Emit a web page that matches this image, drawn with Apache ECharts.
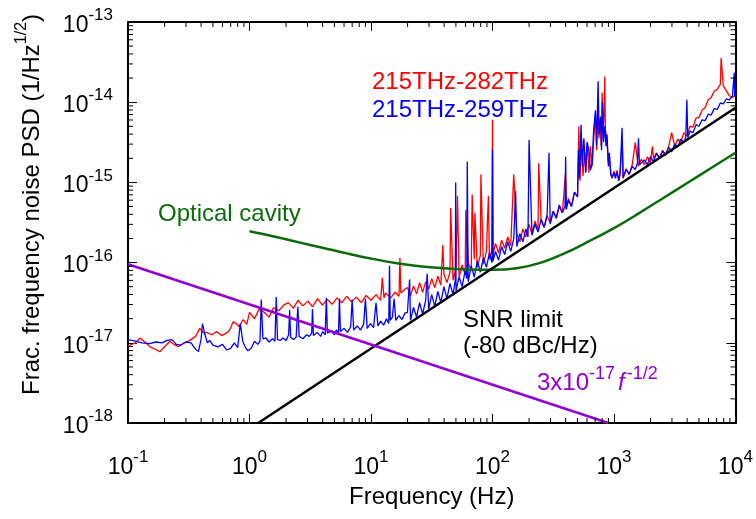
<!DOCTYPE html>
<html>
<head>
<meta charset="utf-8">
<script src="https://cdn.jsdelivr.net/npm/echarts@6/dist/echarts.min.js"></script>
<style>
  html, body { margin: 0; padding: 0; background: #fff; }
  #main { width: 756px; height: 519px; }
</style>
</head>
<body>
<div id="main"></div>
<script>
const FONT = '"Liberation Sans", Arial, sans-serif';

const freqMin = 0.1, freqMax = 1e4;
const psdMin = 1e-18, psdMax = 1e-13;

// [frequency (Hz), log10 of PSD]
const red282 = [
  [0.1,-17.04],[0.115,-17.0],[0.126,-16.94],[0.14,-17.0],[0.152,-17.05],[0.167,-17.08],[0.183,-17.11],
  [0.2,-17.05],[0.221,-16.98],[0.24,-17.02],[0.259,-17.05],[0.29,-17.0],[0.323,-16.97],[0.36,-16.92],
  [0.39,-16.82],[0.42,-16.88],[0.443,-16.87],[0.49,-16.9],[0.535,-16.86],[0.59,-16.91],[0.645,-16.88],
  [0.687,-16.84],[0.733,-16.74],[0.78,-16.76],[0.82,-16.8],[0.887,-16.71],[0.95,-16.77],
  [1.0,-16.62],[1.1,-16.70],[1.2,-16.58],[1.32,-16.62],[1.45,-16.68],[1.58,-16.56],[1.74,-16.60],
  [1.91,-16.53],[2.09,-16.50],[2.29,-16.57],[2.51,-16.47],[2.75,-16.54],[3.02,-16.48],[3.31,-16.55],
  [3.63,-16.45],[3.98,-16.53],[4.37,-16.46],[4.79,-16.52],[5.25,-16.44],[5.75,-16.50],[6.31,-16.42],
  [6.92,-16.49],[7.59,-16.43],[8.32,-16.50],[9.12,-16.41],[10,-16.47],[11,-16.40],[12,-16.47],
  [12.4,-16.19],[12.8,-16.44],[13.2,-16.38],[14.5,-16.44],[15.8,-16.37],[17.0,-16.42],[17.3,-15.94],
  [17.6,-16.38],[19.1,-16.33],
  [19.95,-16.31],[21.13,-16.41],[22.39,-16.29],[23.71,-16.39],[25.12,-16.25],[26.61,-16.37],
  [28.18,-16.24],[29.85,-16.33],[31.62,-16.20],[33.5,-16.31],[35.48,-16.17],[37.58,-16.28],
  [39.0,-15.78],[39.81,-16.14],[42.17,-16.25],[44.67,-16.12],[45.3,-15.32],[47.32,-16.22],
  [50.12,-16.06],[51.5,-15.17],[53.09,-16.18],[56.23,-16.03],[59.57,-16.15],[60.3,-15.34],
  [63.1,-16.00],[66.83,-16.10],[68,-15.15],[70.79,-15.96],[71.6,-15.38],[74.99,-16.06],
  [79.43,-15.91],[80.3,-14.90],[84.14,-16.02],[89.13,-15.86],[92.5,-15.17],[94.41,-15.96],
  [99,-15.84],[100,-14.22],[101,-15.90],[105.9,-15.76],[112.2,-15.88],[118.9,-15.72],[125.9,-15.82],
  [133.4,-15.68],[141.3,-15.79],[149.6,-14.90],[158.5,-15.64],[167.9,-15.74],[177.8,-15.58],
  [188.4,-15.68],[199.5,-15.52],[211.3,-15.64],[223.9,-15.48],[237.1,-15.60],[240,-14.76],
  [251.2,-15.47],[266.1,-15.56],[281.8,-15.42],[298.5,-15.50],[316.2,-15.36],[335,-15.45],
  [354.8,-15.30],[375.8,-15.38],[398.1,-14.90],[404,-15.32],[421.7,-15.20],[446.7,-15.30],
  [473.2,-15.12],[501.2,-15.18],
  [514,-14.30],[525,-14.98],[540,-14.45],[556,-14.92],[575,-14.62],[586,-14.85],[605,-14.50],
  [621,-14.88],[640,-14.55],[661,-14.80],[685,-14.40],[704,-14.15],[720,-14.60],[735,-14.05],
  [752,-14.45],[770,-14.20],[785,-14.55],[799,-13.88],[815,-14.40],[830,-14.10],[840,-13.68],
  [850,-14.35],[876,-14.45],[895,-14.75],[915,-14.65],[940,-14.88],[965,-14.95],[1000,-14.86],
  [1027,-14.92],[1060,-14.85],[1094,-14.97],
  [1122,-14.88],[1170,-14.47],[1189,-14.95],[1259,-14.83],[1334,-14.90],[1413,-14.78],[1496,-14.50],
  [1585,-14.80],[1679,-14.71],[1778,-14.78],[1884,-14.68],[1995,-14.75],[2070,-14.55],[2113,-14.70],
  [2239,-14.63],[2371,-14.70],[2512,-14.60],[2661,-14.66],[2818,-14.55],[2985,-14.38],[3162,-14.55],
  [3350,-14.46],[3548,-14.50],[3758,-14.38],[3981,-14.42],[4217,-14.30],[4467,-14.31],[4732,-14.20],
  [5012,-14.19],[5309,-14.10],[5623,-14.07],[5957,-13.97],[6310,-13.94],[6683,-13.86],[7079,-13.84],
  [7499,-13.78],[7620,-13.45],[7943,-13.80],[8414,-13.86],[8913,-13.92],[9441,-13.94],[10000,-13.91]
];

const blue259 = [
  [0.1,-16.96],[0.115,-16.98],[0.13,-17.0],[0.15,-17.01],[0.17,-16.99],[0.19,-17.0],[0.21,-16.97],
  [0.23,-16.96],[0.25,-17.02],[0.27,-17.03],[0.3,-16.99],[0.33,-17.0],[0.36,-17.08],[0.38,-17.11],
  [0.40,-16.95],[0.41,-16.76],[0.43,-16.9],[0.45,-17.0],[0.47,-16.97],[0.5,-17.03],[0.55,-17.05],
  [0.6,-17.02],[0.65,-17.09],[0.7,-17.07],[0.75,-17.0],[0.8,-17.06],[0.84,-16.76],[0.88,-16.98],
  [0.92,-17.05],[0.97,-17.1],[1.03,-17.07],[1.1,-16.98],[1.17,-17.02],[1.22,-16.98],[1.25,-16.46],
  [1.29,-16.95],[1.37,-16.94],[1.45,-16.99],[1.55,-16.95],[1.62,-16.98],[1.66,-16.43],[1.7,-16.96],
  [1.8,-16.97],[1.88,-16.94],[2.0,-16.97],[2.1,-16.9],[2.14,-16.59],[2.18,-16.93],[2.3,-16.96],
  [2.42,-16.93],[2.5,-16.55],[2.56,-16.92],[2.75,-16.95],[2.95,-16.90],[3.11,-16.92],[3.25,-16.88],
  [3.3,-16.58],[3.36,-16.91],[3.6,-16.87],[3.85,-16.92],[4.0,-16.86],[4.2,-16.9],[4.29,-16.44],
  [4.38,-16.88],[4.7,-16.85],[5.0,-16.9],[5.18,-16.84],[5.4,-16.88],[5.5,-16.45],[5.6,-16.86],
  [6.0,-16.82],[6.4,-16.87],[6.8,-16.8],[7.0,-16.46],[7.2,-16.84],[7.7,-16.79],[8.2,-16.84],
  [8.7,-16.77],[9.0,-16.45],[9.3,-16.82],[9.9,-16.76],[10.5,-16.81],[11.0,-16.50],[11.4,-16.79],
  [12.0,-16.73],[12.7,-16.78],[13.4,-16.70],[14.0,-16.76],[14.2,-16.04],[14.4,-16.72],[15.0,-16.68],
  [15.5,-16.45],[16.0,-16.72],[17,-16.66],[18,-16.71],[19,-16.63],
  [19.95,-16.62],[20.8,-16.21],[21.13,-16.72],[22.39,-16.56],[23.71,-16.68],[25.12,-16.50],
  [26.61,-16.64],[28.18,-16.47],[29,-16.14],[29.85,-16.58],[31.62,-16.40],[33.5,-16.55],
  [35.48,-16.36],[37.58,-16.50],[39.81,-16.30],[42.17,-16.45],[44.67,-16.26],[47.32,-16.40],
  [49.4,-16.22],[49.8,-15.0],[50.12,-16.35],[53.09,-16.18],[56.23,-16.30],[59.57,-16.10],
  [61.4,-16.20],[62,-14.74],[63.1,-16.24],[66.83,-16.04],[70.79,-16.18],[74.99,-15.98],
  [79.43,-16.12],[84.14,-15.94],[89.13,-16.06],[94.41,-15.88],[99,-16.0],[100,-14.59],[101,-15.98],
  [105.9,-15.86],[112.2,-15.97],[118.9,-15.80],[125.9,-15.90],[133.4,-15.74],[141.3,-15.86],
  [149.6,-15.70],[155,-15.11],[158.5,-15.80],[167.9,-15.64],[177.8,-15.74],[188.4,-15.58],
  [196,-15.68],[200,-14.47],[211.3,-15.66],[223.9,-15.52],[237.1,-15.62],[251.2,-15.46],
  [266.1,-15.56],[281.8,-15.40],[292,-14.63],[298.5,-15.52],[316.2,-15.36],[335,-15.44],
  [354.8,-15.28],[375.8,-15.38],[395,-15.30],[400,-14.68],[405,-15.34],[421.7,-15.22],
  [446.7,-15.30],[473.2,-15.12],[501.2,-15.18],
  [510,-14.60],[520,-14.95],[536,-14.28],[549,-14.80],[565,-14.45],[586,-14.88],[600,-14.50],
  [621,-14.60],[640,-14.85],[661,-14.76],[680,-14.35],[704,-14.10],[720,-14.55],[740,-13.74],
  [755,-14.40],[777,-14.18],[790,-14.60],[805,-14.0],[820,-14.50],[840,-14.30],[860,-14.55],
  [876,-14.40],[900,-14.80],[915,-14.63],[940,-14.90],[965,-14.94],[1000,-14.88],[1027,-14.95],
  [1060,-14.87],[1094,-14.98],
  [1122,-14.90],[1165,-14.32],[1189,-14.94],[1259,-14.84],[1334,-14.90],[1413,-14.80],[1496,-14.84],
  [1560,-14.76],[1590,-14.45],[1620,-14.78],[1778,-14.72],[1884,-14.78],[1995,-14.68],[2113,-14.74],
  [2239,-14.64],[2371,-14.70],[2512,-14.61],[2661,-14.66],[2818,-14.56],[2985,-14.62],[3162,-14.52],
  [3350,-14.56],[3548,-14.46],[3758,-14.50],[3900,-14.44],[3980,-13.97],[4050,-14.44],[4217,-14.36],
  [4467,-14.38],[4732,-14.28],[5012,-14.30],[5309,-14.22],[5623,-14.23],[5957,-14.15],[6310,-14.16],
  [6683,-14.08],[7079,-14.09],[7499,-14.01],[7943,-14.02],[8414,-13.96],[8913,-13.97],[9441,-13.92],
  [9700,-13.93],[9770,-13.63],[9850,-13.93],[10000,-13.90]
];

const opticalCavity = [
  [1,-15.61],[1.585,-15.675],[2.512,-15.745],[3.981,-15.815],[6.31,-15.885],[10,-15.95],
  [15.85,-16.005],[25.12,-16.045],[39.81,-16.07],[63.1,-16.085],[100,-16.09],[158.5,-16.07],
  [251.2,-16.0],[398.1,-15.88],[631,-15.73],[1000,-15.57],[1585,-15.39],[2512,-15.20],
  [3981,-15.01],[6310,-14.82],[10000,-14.63]
];

const snrLimit = [[1.18,-18],[10000,-14.07]];
const flickerFloor = [[0.1,-16.02],[900,-18]];

const xMinorTicks = [];
for (let d = -1; d < 4; d++) for (let k = 2; k < 10; k++) xMinorTicks.push(k * Math.pow(10, d));
const yMinorTicks = [];
for (let d = -18; d < -13; d++) for (let k = 2; k < 10; k++) yMinorTicks.push(k * Math.pow(10, d));

function toPsd(pts) {
  return pts.map(p => [p[0], Math.pow(10, p[1])]);
}

function powLabel(v) {
  const e = Math.round(Math.log10(v));
  return '{b|10}{s|' + e + '}';
}

const tickRich = {
  b: { fontSize: 23, lineHeight: 30, verticalAlign: 'bottom', fontFamily: FONT, color: '#000' },
  s: { fontSize: 17, lineHeight: 12, verticalAlign: 'top', fontFamily: FONT, color: '#000' }
};

function logAxis(extra) {
  return Object.assign({
    type: 'log',
    logBase: 10,
    splitLine: { show: false },
    axisLine: { show: true, onZero: false, lineStyle: { color: '#000', width: 2 } },
    axisTick: { show: true, inside: true, length: 9, lineStyle: { color: '#000', width: 1 } },
    minorTick: { show: false }
  }, extra);
}

// short inward minor ticks on all four sides, placed through the axis scales
function tickSeries(vals, isX) {
  return {
    type: 'custom',
    silent: true,
    clip: false,
    z: 5,
    data: vals.map(v => isX ? [v, psdMin] : [freqMin, v]),
    renderItem: function (params, api) {
      const v = api.value(isX ? 0 : 1);
      const a = isX ? api.coord([v, psdMin]) : api.coord([freqMin, v]);
      const b = isX ? api.coord([v, psdMax]) : api.coord([freqMax, v]);
      const st = { stroke: '#000', lineWidth: 1 };
      if (isX) {
        return { type: 'group', children: [
          { type: 'line', shape: { x1: a[0], y1: a[1], x2: a[0], y2: a[1] - 5 }, style: st },
          { type: 'line', shape: { x1: b[0], y1: b[1], x2: b[0], y2: b[1] + 5 }, style: st }
        ] };
      }
      return { type: 'group', children: [
        { type: 'line', shape: { x1: a[0], y1: a[1], x2: a[0] + 5, y2: a[1] }, style: st },
        { type: 'line', shape: { x1: b[0], y1: b[1], x2: b[0] - 5, y2: b[1] }, style: st }
      ] };
    }
  };
}

function lineSeries(name, pts, color, width) {
  return {
    name: name,
    type: 'line',
    data: toPsd(pts),
    symbol: 'none',
    lineStyle: { color: color, width: width },
    itemStyle: { color: color }
  };
}

const chart = echarts.init(document.getElementById('main'), null, { renderer: 'canvas' });

const option = {
  animation: false,
  backgroundColor: '#fff',
  textStyle: { fontFamily: FONT },
  grid: { left: 128, right: 19, top: 22, bottom: 96 },
  xAxis: [
    logAxis({
      min: freqMin, max: freqMax, position: 'bottom',
      axisLabel: { formatter: powLabel, rich: tickRich, margin: 26, showMinLabel: true, showMaxLabel: true },
      name: 'Frequency (Hz)', nameLocation: 'middle', nameGap: 62,
      nameTextStyle: { fontSize: 24, color: '#000', fontFamily: FONT }
    }),
    logAxis({ min: freqMin, max: freqMax, position: 'top', axisLabel: { show: false } })
  ],
  yAxis: [
    logAxis({
      min: psdMin, max: psdMax, position: 'left',
      axisLabel: { formatter: powLabel, rich: tickRich, margin: 15, showMinLabel: true, showMaxLabel: true },
      name: '{a|Frac. frequency noise PSD (1/Hz}{s|1/2}{a|)}',
      nameLocation: 'middle', nameRotate: 90, nameGap: 84,
      nameTextStyle: {
        padding: [0, 0, 0, 36],
        rich: {
          a: { fontSize: 24, lineHeight: 30, verticalAlign: 'bottom', fontFamily: FONT, color: '#000' },
          s: { fontSize: 16, lineHeight: 14, verticalAlign: 'top', fontFamily: FONT, color: '#000' }
        }
      }
    }),
    logAxis({ min: psdMin, max: psdMax, position: 'right', axisLabel: { show: false } })
  ],
  graphic: [
    { type: 'text', x: 372, y: 82, style: { text: '215THz-282THz', fill: '#ff0000', font: '24px ' + FONT, verticalAlign: 'middle' } },
    { type: 'text', x: 372, y: 110, style: { text: '215THz-259THz', fill: '#0000ff', font: '24px ' + FONT, verticalAlign: 'middle' } },
    { type: 'text', x: 158, y: 214, style: { text: 'Optical cavity', fill: '#0b6b0b', font: '24px ' + FONT, verticalAlign: 'middle' } },
    { type: 'text', x: 463, y: 320, style: { text: 'SNR limit', fill: '#000', font: '24px ' + FONT, verticalAlign: 'middle' } },
    { type: 'text', x: 463, y: 346, style: { text: '(-80 dBc/Hz)', fill: '#000', font: '24px ' + FONT, verticalAlign: 'middle' } },
    { type: 'text', x: 537, y: 380, style: {
      text: '{a|3x10}{s|-17}{i|f}{s|-1/2}', fill: '#9400d3', verticalAlign: 'middle',
      rich: {
        a: { fontSize: 24, lineHeight: 30, verticalAlign: 'bottom', fontFamily: FONT, fill: '#9400d3' },
        i: { fontSize: 24, lineHeight: 30, verticalAlign: 'bottom', fontStyle: 'italic', fontFamily: FONT, fill: '#9400d3', padding: [0, 2, 0, 3] },
        s: { fontSize: 18, lineHeight: 13, verticalAlign: 'top', fontFamily: FONT, fill: '#9400d3' }
      }
    } }
  ],
  series: [
    lineSeries('215THz-282THz', red282, '#ff0000', 1.3),
    lineSeries('215THz-259THz', blue259, '#0000ff', 1.3),
    Object.assign(lineSeries('Optical cavity', opticalCavity, '#0b6b0b', 2.5), { smooth: 0.4 }),
    lineSeries('SNR limit', snrLimit, '#000000', 2.5),
    lineSeries('3x10^-17 f^-1/2', flickerFloor, '#9400d3', 2.5),
    tickSeries(xMinorTicks, true),
    tickSeries(yMinorTicks, false)
  ]
};

chart.setOption(option);
</script>
</body>
</html>
